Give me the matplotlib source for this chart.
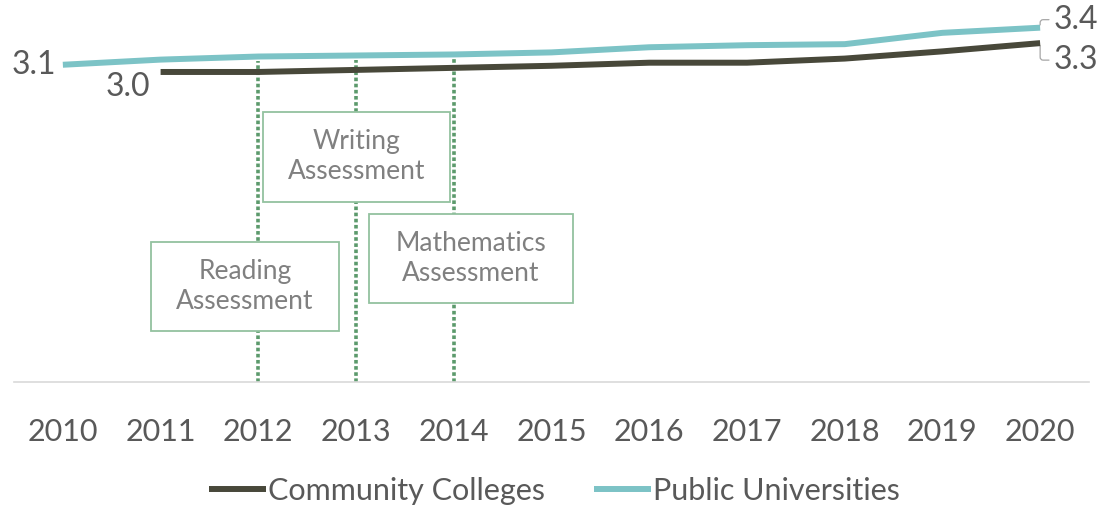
import matplotlib.pyplot as plt
from matplotlib.patches import Rectangle

plt.rcParams['font.family'] = ['Lato', 'DejaVu Sans']

years = ['2010', '2011', '2012', '2013', '2014', '2015', '2016', '2017', '2018', '2019', '2020']
public_univ = [3.08, 3.13, 3.16, 3.17, 3.18, 3.20, 3.25, 3.27, 3.28, 3.39, 3.44]
comm_college = [None, 3.01, 3.01, 3.03, 3.05, 3.07, 3.10, 3.10, 3.14, 3.21, 3.29]

# assessment rollouts: (year, label)
events = [('2012', 'Reading\nAssessment'),
          ('2013', 'Writing\nAssessment'),
          ('2014', 'Mathematics\nAssessment')]

TEAL = '#7cc3c6'
OLIVE = '#48483a'
GREEN = '#5c9a6c'
BOX_EDGE = '#93c29f'
TXT = '#595959'

fig = plt.figure(figsize=(11.09, 5.08), dpi=100)
ax = fig.add_axes([14 / 1109, 126 / 508, 1075 / 1109, 370.8 / 508])
x = list(range(len(years)))

cc_x = [i for i, v in zip(x, comm_college) if v is not None]
cc_y = [v for v in comm_college if v is not None]

ax.plot(x, public_univ, color=TEAL, lw=4.3, solid_capstyle='butt',
        solid_joinstyle='round', label='Public Universities', zorder=3)
ax.plot(cc_x, cc_y, color=OLIVE, lw=4.3, solid_capstyle='butt',
        solid_joinstyle='round', label='Community Colleges', zorder=4)

# dotted markers for each assessment year
for yr, _ in events:
    i = years.index(yr)
    ax.vlines(i, 0, public_univ[i] - 0.04, colors=GREEN, lw=2.6,
              linestyles=(0, (1, 0.7)), zorder=1)

# boxes around the assessment labels (x0, y0, x1, y1 in data units)
boxes = [(0.90, 0.50, 2.83, 1.36),
         (2.05, 1.75, 3.96, 2.62),
         (3.13, 0.77, 5.22, 1.63)]
for (yr, label), (x0, y0, x1, y1) in zip(events, boxes):
    ax.add_patch(Rectangle((x0, y0), x1 - x0, y1 - y0, facecolor='white',
                           edgecolor=BOX_EDGE, lw=1.3, zorder=2))
    ax.text((x0 + x1) / 2, (y0 + y1) / 2, label, ha='center', va='center',
            fontsize=19, color='#808080', linespacing=1.25, zorder=5)

# end-point value labels
ax.annotate(f'{public_univ[0]:.1f}', xy=(0, public_univ[0]), xytext=(-7, 0),
            textcoords='offset pixels', ha='right', va='center',
            fontsize=23, color=TXT)
ax.annotate(f'{cc_y[0]:.1f}', xy=(cc_x[0], cc_y[0]), xytext=(-10, -15),
            textcoords='offset pixels', ha='right', va='center',
            fontsize=23, color=TXT)
leader = dict(arrowstyle='-', color='#a6a6a6', lw=0.9, shrinkA=1, shrinkB=2,
              connectionstyle='angle,angleA=0,angleB=90,rad=3',
              relpos=(0, 0.5))
ax.annotate(f'{public_univ[-1]:.1f}', xy=(x[-1], public_univ[-1]), xytext=(13, 8),
            textcoords='offset pixels', ha='left', va='center',
            fontsize=23, color=TXT, arrowprops=leader)
ax.annotate(f'{cc_y[-1]:.1f}', xy=(cc_x[-1], cc_y[-1]), xytext=(13, -17),
            textcoords='offset pixels', ha='left', va='center',
            fontsize=23, color=TXT, arrowprops=leader)

ax.set_xlim(-0.5, len(years) - 0.5)
ax.set_ylim(0, 3.6)
ax.set_xticks(x)
ax.set_xticklabels(years, fontsize=22, color=TXT)
ax.tick_params(axis='x', length=0, pad=26)
ax.set_yticks([])
for side in ['top', 'right', 'left']:
    ax.spines[side].set_visible(False)
ax.spines['bottom'].set_color('#d9d9d9')
ax.spines['bottom'].set_linewidth(1.2)

handles, labels = ax.get_legend_handles_labels()
fig.legend(handles[::-1], labels[::-1], loc='center', bbox_to_anchor=(0.5, 17 / 508),
           ncol=2, frameon=False, fontsize=22, handlelength=1.85,
           handletextpad=0.08, columnspacing=1.6, labelcolor=TXT)

fig.savefig('out.png', dpi=100)
